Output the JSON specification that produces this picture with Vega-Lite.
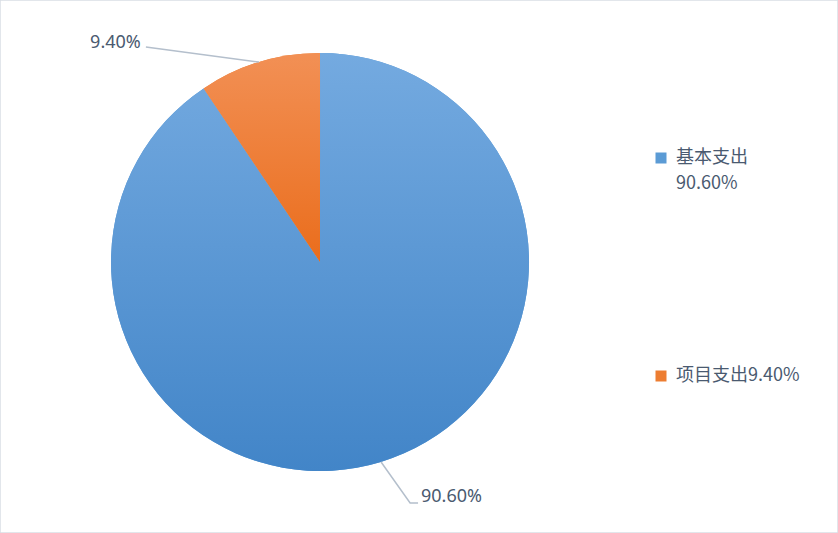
{
  "$schema": "https://vega.github.io/schema/vega-lite/v6.json",
  "width": 838,
  "height": 533,
  "autosize": {"type": "none"},
  "padding": 0,
  "background": "white",
  "config": {
    "view": {"stroke": "#d9dee5", "strokeWidth": 1.5},
    "font": "Noto Sans CJK SC",
    "style": {"guide-label": {"lineHeight": 26}}
  },
  "datasets": {
    "pie": [
      {"category": "基本支出", "value": 90.6},
      {"category": "项目支出", "value": 9.4}
    ],
    "leaders": [
      {"id": "a", "seq": 1, "lx": -0.833, "ly": 1.029},
      {"id": "a", "seq": 2, "lx": -0.292, "ly": 0.957},
      {"id": "b", "seq": 1, "lx": 0.292, "ly": -0.957},
      {"id": "b", "seq": 2, "lx": 0.431, "ly": -1.153},
      {"id": "b", "seq": 3, "lx": 0.469, "ly": -1.153}
    ],
    "labels": [
      {"text": "9.40%", "lx": -1.1, "ly": 1.048},
      {"text": "90.60%", "lx": 0.483, "ly": -1.124}
    ]
  },
  "layer": [
    {
      "data": {"name": "pie"},
      "mark": {"type": "arc", "outerRadius": 209, "stroke": null},
      "encoding": {
        "x": {"datum": 0, "type": "quantitative", "scale": {"domain": [-1.531, 2.478], "nice": false, "zero": false}, "axis": null},
        "y": {"datum": 0, "type": "quantitative", "scale": {"domain": [-1.297, 1.254], "nice": false, "zero": false}, "axis": null},
        "theta": {"field": "value", "type": "quantitative", "stack": true},
        "order": {"field": "category", "sort": "ascending"},
        "color": {
          "field": "category",
          "type": "nominal",
          "scale": {"domain": ["基本支出", "项目支出"], "range": ["#5b9bd5", "#ed7d31"]},
          "legend": {
            "orient": "none",
            "legendX": 652,
            "legendY": 149,
            "padding": 0,
            "title": null,
            "symbolType": "square",
            "symbolSize": 121,
            "symbolStrokeWidth": 0,
            "labelFontSize": 18,
            "labelColor": "#4a5a70",
            "labelFont": "Noto Sans CJK SC",
            "labelOffset": 6,
            "labelLimit": 300,
            "rowPadding": 174,
            "labelExpr": "datum.label == '基本支出' ? ['基本支出', '90.60%'] : '项目支出9.40%'"
          }
        }
      }
    },
    {
      "data": {"name": "pie"},
      "mark": {"type": "arc", "outerRadius": 209, "stroke": null},
      "encoding": {
        "x": {"datum": 0, "type": "quantitative"},
        "y": {"datum": 0, "type": "quantitative"},
        "theta": {"field": "value", "type": "quantitative", "stack": true},
        "order": {"field": "category", "sort": "ascending"},
        "fill": {
          "condition": {
            "test": "datum.category === '项目支出'",
            "value": {"gradient": "linear", "x1": 0, "y1": 0, "x2": 0, "y2": 1, "stops": [{"offset": 0, "color": "#f29055"}, {"offset": 1, "color": "#ea6d1c"}]}
          },
          "value": {"gradient": "linear", "x1": 0, "y1": 0, "x2": 0, "y2": 1, "stops": [{"offset": 0, "color": "#74aae0"}, {"offset": 1, "color": "#4285c8"}]}
        }
      }
    },
    {
      "data": {"name": "leaders"},
      "mark": {"type": "line", "color": "#b4bfcc", "strokeWidth": 1.5},
      "encoding": {
        "x": {"field": "lx", "type": "quantitative"},
        "y": {"field": "ly", "type": "quantitative"},
        "detail": {"field": "id"},
        "order": {"field": "seq"}
      }
    },
    {
      "data": {"name": "labels"},
      "mark": {"type": "text", "align": "left", "baseline": "middle", "fontSize": 18, "color": "#4a5a70", "font": "Noto Sans"},
      "encoding": {
        "x": {"field": "lx", "type": "quantitative"},
        "y": {"field": "ly", "type": "quantitative"},
        "text": {"field": "text"}
      }
    }
  ]
}
